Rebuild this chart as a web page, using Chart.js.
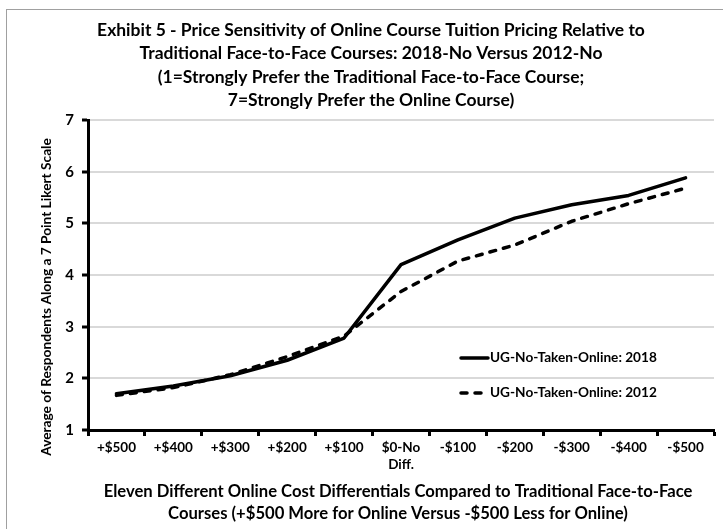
<!DOCTYPE html>
<html><head><meta charset="utf-8">
<script src="https://cdn.jsdelivr.net/npm/chart.js@4.4.1/dist/chart.umd.min.js"></script>
<style>html,body{margin:0;padding:0;background:#fff;overflow:hidden} canvas{display:block}</style>
</head><body>
<canvas id="c" width="723" height="529"></canvas>
<script>
// ---- data ----
const categories = ['+$500','+$400','+$300','+$200','+$100',['$0-No','Diff.'],'-$100','-$200','-$300','-$400','-$500'];
const series2018 = [1.70,1.85,2.05,2.35,2.78,4.20,4.68,5.10,5.36,5.54,5.88];
const series2012 = [1.67,1.82,2.07,2.42,2.82,3.68,4.27,4.58,5.04,5.38,5.68];
const seriesNames = ['UG-No-Taken-Online: 2018','UG-No-Taken-Online: 2012'];
const yTicks = [1,2,3,4,5,6,7];
const titleLines = [
  'Exhibit 5 - Price Sensitivity of Online Course Tuition Pricing Relative to',
  'Traditional Face-to-Face Courses: 2018-No Versus 2012-No',
  '(1=Strongly Prefer the Traditional Face-to-Face Course;',
  '7=Strongly Prefer the Online Course)'
];
const xTitleLines = [
  'Eleven Different Online Cost Differentials Compared to Traditional Face-to-Face',
  'Courses (+$500 More for Online Versus -$500 Less for Online)'
];
const yTitle = 'Average of Respondents Along a 7 Point Likert Scale';

// ---- styling helpers ----
const FAM = 'Lato, "DejaVu Sans", sans-serif';
function fitSize(text, target){
  const c = document.createElement('canvas').getContext('2d');
  c.font = 'bold 100px ' + FAM;
  return 100 * target / c.measureText(text).width;
}
const titleSize = fitSize(titleLines[0], 548);
const xTitleSize = fitSize(xTitleLines[0], 589);
const yTitleSize = fitSize(yTitle, 318);
const legendSize = fitSize(seriesNames[0], 167);
const xTickSize = 13.5;
const yTickSize = 15;

const decor = {
  id: 'decor',
  beforeDraw(chart){
    const ctx = chart.ctx;
    ctx.save();
    ctx.strokeStyle = '#a0a0a0';
    ctx.lineWidth = 1;
    ctx.strokeRect(6.5, 9.5, 900, 900);
    ctx.restore();
  },
  afterDraw(chart){
    const ctx = chart.ctx;
    ctx.save();
    ctx.fillStyle = '#000';
    ctx.textAlign = 'center';
    ctx.textBaseline = 'middle';
    ctx.font = 'bold ' + titleSize + 'px ' + FAM;
    titleLines.forEach((t,i)=>ctx.fillText(t, 371, 30 + i*23.5));
    ctx.font = 'bold ' + xTitleSize + 'px ' + FAM;
    xTitleLines.forEach((t,i)=>ctx.fillText(t, 398, 492 + i*22));
    ctx.save();
    ctx.translate(47, 297);
    ctx.rotate(-Math.PI/2);
    ctx.font = 'bold ' + yTitleSize + 'px ' + FAM;
    ctx.fillText(yTitle, 0, 0);
    ctx.restore();
    // legend
    const ys = [358, 393];
    chart.data.datasets.forEach((ds,i)=>{
      ctx.save();
      ctx.strokeStyle = ds.borderColor;
      ctx.lineWidth = ds.borderWidth;
      ctx.lineCap = ds.borderCapStyle || 'butt';
      ctx.setLineDash(ds.borderDash || []);
      ctx.beginPath();
      ctx.moveTo(461, ys[i]);
      ctx.lineTo(488, ys[i]);
      ctx.stroke();
      ctx.restore();
      ctx.font = 'bold ' + legendSize + 'px ' + FAM;
      ctx.textAlign = 'left';
      ctx.fillText(ds.label, 490, ys[i]);
    });
    ctx.restore();
  }
};

new Chart(document.getElementById('c'), {
  type: 'line',
  data: {
    labels: categories,
    datasets: [
      {label: seriesNames[0], data: series2018, borderColor:'#000', borderWidth:3.5, pointRadius:0, tension:0, borderJoinStyle:'round', borderCapStyle:'round'},
      {label: seriesNames[1], data: series2012, borderColor:'#000', borderWidth:3.5, pointRadius:0, tension:0, borderDash:[6,8], borderJoinStyle:'round', borderCapStyle:'round'}
    ]
  },
  options: {
    responsive: false,
    animation: false,
    devicePixelRatio: 1,
    layout: {padding: {top: 120, left: 0, right: 9, bottom: 0}},
    plugins: {legend: {display:false}, title:{display:false}, tooltip:{enabled:false}},
    scales: {
      x: {
        type: 'category',
        offset: true,
        afterFit(s){ s.height = 99; },
        grid: {display:true, offset:true, drawOnChartArea:false, drawTicks:true, tickLength:6, tickColor:'#000', tickWidth:3},
        border: {display:true, color:'#000', width:3},
        ticks: {color:'#000', font:{family:FAM, weight:'bold', size:xTickSize, lineHeight:1.25}, padding:3, maxRotation:0, autoSkip:false}
      },
      y: {
        min: yTicks[0], max: yTicks[yTicks.length-1],
        afterFit(s){ s.width = 88; },
        afterBuildTicks(s){ s.ticks = yTicks.map(v=>({value:v})); },
        grid: {color:'#d9d9d9', lineWidth:2, drawTicks:true, tickLength:6, tickColor:'#000', tickWidth:3},
        border: {display:true, color:'#000', width:3},
        ticks: {color:'#000', font:{family:FAM, weight:'bold', size:yTickSize}, padding:8}
      }
    }
  },
  plugins: [decor]
});
</script>
</body></html>
